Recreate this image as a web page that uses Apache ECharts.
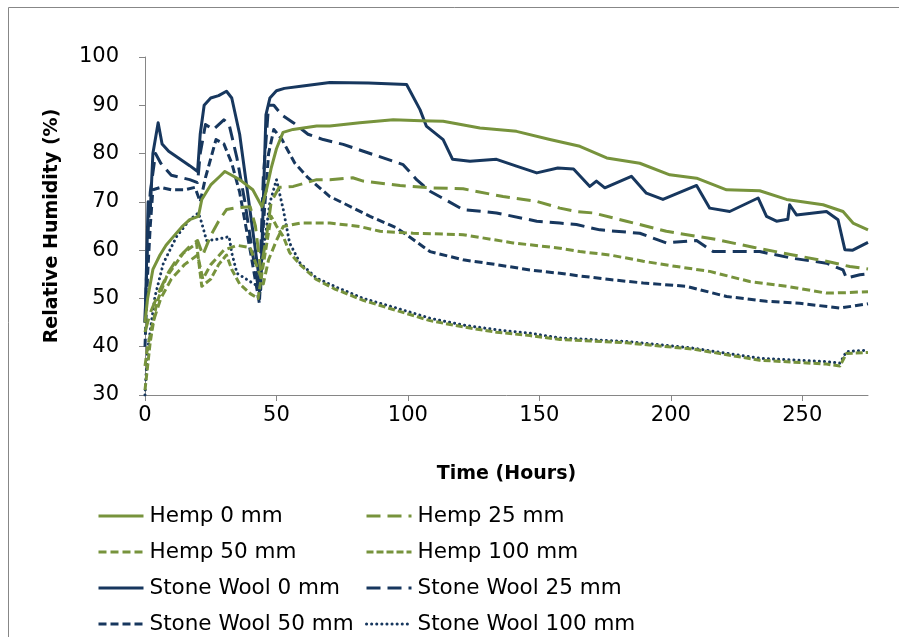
<!DOCTYPE html>
<html>
<head>
<meta charset="utf-8">
<script src="https://cdn.jsdelivr.net/npm/echarts@6/dist/echarts.min.js"></script>
<style>
html,body{margin:0;padding:0;background:#fff;}
#chart{width:899px;height:637px;}
</style>
</head>
<body>
<div id="chart"></div>
<script>
// ---- data: [time (hours), relative humidity (%)] ----
const hemp0 = [[0,45],[1,50],[3,56],[5.7,59],[8,61],[10.8,62.8],[14,64.8],[17,66.3],[20.3,67],[21.6,70.5],[25,73.5],[28.5,75.3],[30.4,76.3],[33,75.5],[36,74.6],[41,72.5],[43,70.5],[44.5,69],[46,72],[48,77],[50,81],[52.5,84.4],[56.3,85],[65.3,85.7],[70.3,85.7],[81.7,86.4],[94.4,87],[105,86.8],[113.4,86.7],[127.4,85.3],[141.3,84.6],[154,82.9],[165.4,81.5],[175.6,79.1],[188.2,78],[199.6,75.6],[209.8,74.9],[221.2,72.5],[233.8,72.3],[244,70.5],[257.9,69.4],[265.5,68],[269.3,65.6],[275,64.2]];
const hemp25 = [[0,43],[2,47],[5.7,51.8],[9,55.5],[12,58],[17,60.8],[20,62],[22,59],[25,63],[28,66],[31,68.4],[35,68.8],[40,69],[42,65],[44,56],[46,62],[48,70],[51,73],[56.4,73.2],[65.3,74.6],[70.3,74.6],[79,75],[83,74.3],[97,73.4],[108.4,72.9],[121,72.7],[136.2,71.1],[149,70.1],[157.8,68.7],[164.1,68],[170.5,67.7],[183.1,66],[198.3,63.9],[217.3,62.2],[231.3,60.6],[246.5,59],[259.2,57.7],[268.1,56.6],[275,56.1]];
const hemp50 = [[0,36],[1,40],[3,45],[6,50],[10,54],[15,57],[20,59],[22,54],[25,57],[30,60],[35,61],[40,60.5],[43,56],[45,53],[47,58],[50,62],[52.6,64.9],[59,65.6],[70.3,65.6],[81.7,64.9],[89.4,63.9],[102,63.5],[121,63.2],[140,61.5],[157.8,60.4],[165.4,59.7],[176.8,59],[189.5,57.7],[202.2,56.6],[214.8,55.6],[230,53.5],[244,52.5],[259.2,51.1],[266.8,51.2],[275,51.4]];
const hemp100 = [[0,31],[1,36],[2,41],[4.4,49],[8.2,54.5],[14.6,59.4],[19.6,61.4],[21.6,52.5],[25,54],[28,57],[31,59],[33,56],[36,53],[40,51],[43,50],[45,57],[48,67],[50,65],[52.6,62.8],[55,59.5],[59,57],[65,54],[72,52],[83,49.6],[95.7,47.5],[108.4,45.4],[121,44.1],[133.7,43],[146.4,42.3],[157.8,41.5],[183.1,40.8],[208.5,39.5],[233.8,37.2],[259.2,36.4],[264.3,36],[266.8,38.6],[275,38.8]];
const stoneWool0 = [[0,45],[0.5,55],[1.2,70],[2,68],[3,80],[5,86.4],[6.5,82],[9,80.5],[13,79],[17,77.5],[20,76.3],[21,84],[22.5,90],[25,91.5],[28,92],[31,92.9],[33,91.5],[36,84],[39,72],[42,60],[44,51.8],[45,70],[46,88],[47.5,91.5],[50,93],[53,93.5],[60,94],[70.3,94.7],[85,94.6],[99.5,94.3],[104.6,89.1],[107,85.7],[113.4,82.9],[117,78.8],[123.6,78.4],[133.7,78.8],[141.3,77.4],[149,76],[157,77],[163,76.8],[169.2,73.2],[171.7,74.3],[174.9,72.9],[185,75.3],[190.7,71.8],[197,70.5],[209.8,73.4],[214.8,68.7],[222.4,68],[233.2,70.8],[236.4,67],[240.2,66],[244.5,66.4],[245.2,69.4],[247.8,67.3],[259.2,68],[263.6,66.3],[266.2,60.1],[269.2,60],[275,61.6]];
const stoneWool25 = [[0,45],[1,62],[2,72],[4,80],[6,78],[10,75.5],[17,74.6],[20,74],[21,80],[23,86],[26,85],[30,87],[32,86],[35,79],[38,70],[41,59],[43.5,51],[45,75],[47,90],[49,90],[52,88],[56.4,86.4],[62,84],[67.8,82.9],[75.4,81.9],[86.8,79.8],[98.2,77.7],[103.3,74.6],[108.4,72.2],[121,68.4],[133.7,67.7],[149,66],[157.8,65.6],[164.1,65.3],[173,64.2],[188.2,63.5],[198.3,61.5],[209.8,62],[216.1,59.7],[233.8,59.7],[246.5,58.3],[259.2,57.3],[265.5,55.9],[266.8,54.2],[271.9,54.9],[275,55.1]];
const stoneWool50 = [[0,40],[1,55],[2,65],[3,72.5],[6,73],[10,72.5],[15,72.5],[19,73],[21,70],[23,75],[27,82.9],[30,82],[33,78],[36,72],[40,60],[43.5,49],[45,65],[47,80],[49,85],[52,83],[57,78],[62,75],[70.3,71.1],[76.7,69.4],[85.6,67],[95.7,64.6],[102,62.2],[108.4,59.7],[121,58],[133.7,57],[146.4,55.9],[157.8,55.2],[164.8,54.7],[176.8,53.9],[189.5,53.2],[206,52.5],[221.2,50.4],[236.4,49.4],[249,49],[264.3,48],[275,48.9]];
const stoneWool100 = [[0,30],[0.5,35],[1,39.3],[3.8,50.4],[7,57.3],[12,62.8],[17,66.3],[20.3,67.7],[21.6,65.6],[23.4,62],[27,62.2],[32,62.8],[33,59.4],[35,55.2],[40,53.5],[43,52.5],[45,60],[47.5,69.8],[50,74.6],[52.6,68.4],[55,61.5],[59,57.3],[65.3,54.2],[72.9,52.3],[83,50],[95.7,48],[108.4,45.9],[121,44.5],[133.7,43.5],[146.4,42.8],[157.8,41.8],[183.1,41.1],[208.5,39.7],[233.8,37.6],[259.2,36.9],[264.3,36.6],[266.8,39],[275,39.3]];

const seriesNames = ['Hemp 0 mm','Hemp 25 mm','Hemp 50 mm','Hemp 100 mm','Stone Wool 0 mm','Stone Wool 25 mm','Stone Wool 50 mm','Stone Wool 100 mm'];
const xTicks = [0,50,100,150,200,250];
const yTicks = [30,40,50,60,70,80,90,100];

// ---- styles ----
const GREEN = '#77933C', NAVY = '#17375E';
const styles = [
  {c:GREEN, t:'solid'},
  {c:GREEN, t:[14,7]},
  {c:GREEN, t:[8,4]},
  {c:GREEN, t:[7,3]},
  {c:NAVY, t:'solid'},
  {c:NAVY, t:[14,7]},
  {c:NAVY, t:[8,4]},
  {c:NAVY, t:[0.1,5], cap:'round'}
];
const datasets = [hemp0, hemp25, hemp50, hemp100, stoneWool0, stoneWool25, stoneWool50, stoneWool100];
const FONT = 'DejaVu Sans';

const chart = echarts.init(document.getElementById('chart'), null, {renderer:'canvas'});
const series = datasets.map((d,i)=>({
  name: seriesNames[i],
  type: 'line',
  data: d,
  showSymbol: false,
  symbol: 'none',
  animation: false,
  z: 8 - i,
  lineStyle: {color: styles[i].c, width: 3, type: styles[i].t, cap: styles[i].cap || 'butt', join:'round'},
  itemStyle: {color: styles[i].c}
}));

const legendCommon = {
  orient: 'vertical',
  itemWidth: 45,
  itemHeight: 14,
  itemGap: 14,
  itemStyle: {opacity: 0},
  lineStyle: {width: 3},
  textStyle: {fontFamily: FONT, fontSize: 21.5, color: '#000', padding:[0,0,0,1]},
  padding: 0
};

chart.setOption({
  animation: false,
  backgroundColor: '#fff',
  graphic: [{
    type: 'rect', silent: true,
    shape: {x: 8.5, y: 7.5, width: 1200, height: 1200},
    style: {fill: 'none', stroke: '#878787', lineWidth: 1}
  }],
  grid: {left: 145, top: 57, width: 723, height: 338, containLabel: false},
  xAxis: {
    type: 'value', min: 0, max: 275, interval: 50,
    name: 'Time (Hours)', nameLocation: 'middle', nameGap: 70,
    nameTextStyle: {fontFamily: FONT, fontSize: 19, fontWeight: 'bold', color: '#000'},
    axisLine: {show: true, lineStyle: {color: '#868686', width: 1}},
    axisTick: {show: true, length: 6, inside: false, lineStyle: {color: '#868686'}, customValues: xTicks},
    axisLabel: {fontFamily: FONT, fontSize: 21, color: '#000', margin: 10, customValues: xTicks},
    splitLine: {show: false}
  },
  yAxis: {
    type: 'value', min: 30, max: 100, interval: 10,
    name: 'Relative Humidity (%)', nameLocation: 'middle', nameGap: 83, nameRotate: 90,
    nameTextStyle: {fontFamily: FONT, fontSize: 19, fontWeight: 'bold', color: '#000'},
    axisLine: {show: true, lineStyle: {color: '#868686', width: 1}},
    axisTick: {show: true, length: 6, inside: false, lineStyle: {color: '#868686'}, customValues: yTicks},
    axisLabel: {fontFamily: FONT, fontSize: 21, color: '#000', margin: 26, customValues: yTicks},
    splitLine: {show: false}
  },
  legend: [
    Object.assign({}, legendCommon, {left: 97, top: 505, data: [seriesNames[0], seriesNames[2], seriesNames[4], seriesNames[6]]}),
    Object.assign({}, legendCommon, {left: 365, top: 505, data: [seriesNames[1], seriesNames[3], seriesNames[5], seriesNames[7]]})
  ],
  series: series
});
</script>
</body>
</html>
